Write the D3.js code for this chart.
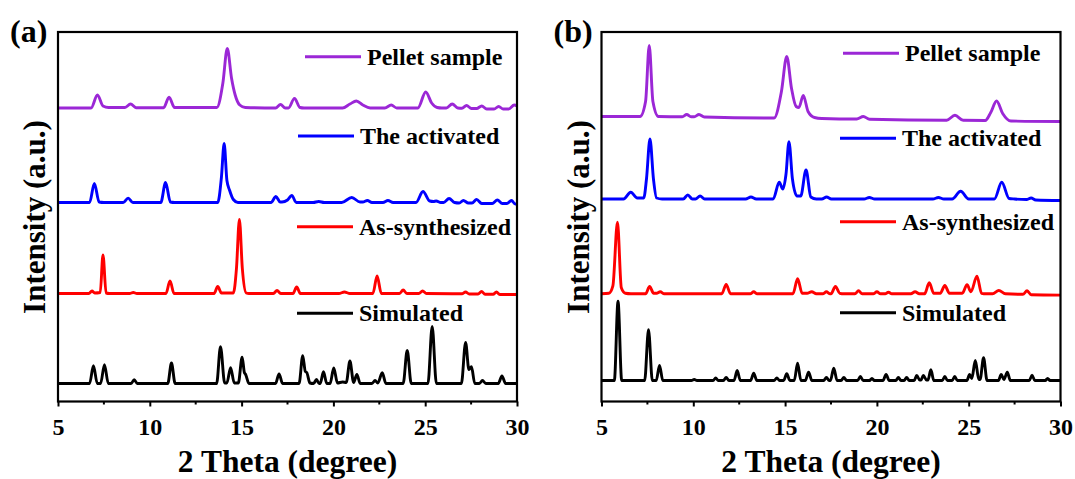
<!DOCTYPE html>
<html>
<head>
<meta charset="utf-8">
<script src="https://cdn.jsdelivr.net/npm/d3@7"></script>
<style>
  html, body { margin: 0; padding: 0; background: #fff; }
  svg { display: block; }
  text { font-family: "Liberation Serif", "Times New Roman", serif; font-weight: bold; fill: #000; }
</style>
</head>
<body>
<svg id="chart" width="1075" height="479"></svg>
<script>
// ---- Data: XRD patterns, [2θ (degree), intensity (a.u.) above each trace's baseline] ----
const seriesNames  = ["Simulated", "As-synthesized", "The activated", "Pellet sample"];
const seriesColors = ["#000000", "#ff0000", "#0000ff", "#9b27d6"];
const thetaTicks   = [5, 10, 15, 20, 25, 30];
const thetaMinor   = [7.5, 12.5, 17.5, 22.5, 27.5];

// vertical offsets (stacking) of the four traces, same order as seriesNames
const offsetsA = [18, 108, 199, 293.5];
const offsetsB = [21, 107.7, 202.5, 285];

// ---- Panel (a) ----
const simulatedA = [
  [5,0],[6.72,0],[6.93,17.7],[7.14,0],[7.32,0],[7.53,18.7],[7.74,0],
  [8.98,0],[9.15,3.7],[9.32,0],
  [10.98,0],[11.18,20.5],[11.38,0],
  [13.64,0],[13.85,36.8],[14.08,0.5],[14.2,0.5],[14.4,15.8],[14.6,0.5],[14.82,0.5],[15.03,26.3],[15.15,11],[15.22,9],[15.4,0],
  [16.85,0],[17.04,9.6],[17.23,0],
  [18.13,0],[18.33,27.8],[18.47,12],[18.55,11],[18.72,0.5],[18.92,0],[19.08,4],[19.22,0],[19.28,0],[19.46,11.7],[19.64,0],
  [19.82,0],[20.02,15.5],[20.22,0.5],[20.5,1.5],[20.7,1],[20.9,22.5],[21.1,1],[21.28,9],[21.46,0],
  [22.1,0],[22.27,3],[22.42,0.5],[22.66,10.7],[22.86,0],
  [23.8,0],[24.02,33],[24.24,0],
  [25.15,0],[25.38,57],[25.61,0],
  [26.97,0],[27.2,41],[27.38,14],[27.52,16.7],[27.7,0],
  [27.95,0],[28.12,3],[28.3,0],
  [28.98,0],[29.18,7.5],[29.38,0],[30,0]
];
const asSynthesizedA = [
  [5,0],[6.68,0],[6.85,2.5],[7.0,0.5],[7.3,1],[7.45,38.5],[7.62,0.5],[7.8,0],
  [8.9,0],[9.1,1],[9.3,0],
  [10.88,0],[11.1,12.5],[11.32,0],
  [13.5,0],[13.7,7],[13.9,0.5],[14.55,0.5],[14.72,25],[14.88,74],[15.04,25],[15.25,0.5],[15.4,0],
  [16.73,0],[16.93,3],[17.13,0],
  [17.8,0],[18.0,6.5],[18.2,0],
  [20.3,0],[20.6,1.5],[20.9,0],
  [22.15,0],[22.38,17.5],[22.61,0],
  [23.6,0],[23.8,3.5],[24.0,0],
  [24.65,0],[24.86,2.5],[25.07,0],
  [27.0,-0.3],[27.2,1.5],[27.4,-0.5],
  [27.88,-0.5],[28.07,2],[28.26,-0.7],
  [28.7,-0.7],[28.88,1.5],[29.06,-1],[30,-1]
];
const activatedA = [
  [5,0],[6.72,0],[6.98,19],[7.24,0.5],[7.5,0],
  [8.55,0],[8.82,4.4],[9.08,0],
  [10.6,0],[10.86,20],[11.12,0.5],[11.35,0],
  [13.7,0],[13.9,25],[14.05,59],[14.2,22],[14.35,12],[14.55,3],[14.8,0],
  [16.6,0],[16.87,6],[17.1,0.5],[17.2,0.5],[17.5,2.5],[17.73,7],[17.98,0],
  [18.9,0],[19.2,1],[19.5,0],
  [20.45,0],[21.0,5],[21.45,0.5],[21.6,0.5],[21.85,2],[22.1,0],
  [22.7,0],[22.97,2],[23.25,0],
  [24.5,0],[24.88,11],[25.25,1.5],[25.45,1],[25.6,1.5],[25.85,0],
  [26.0,0],[26.3,4],[26.6,0],
  [26.85,-0.5],[27.08,2],[27.35,-0.5],
  [27.55,-0.5],[27.8,3],[28.08,-1],
  [28.65,-1],[28.93,2.5],[29.2,-1],[29.45,-1],[29.7,2],[29.9,-1.5],[30,-1.5]
];
const pelletA = [
  [5,0],[6.8,0],[7.15,13],[7.45,2],[7.75,0.5],
  [8.65,0.5],[8.95,4],[9.25,0.3],
  [10.75,0.3],[11.05,10.7],[11.35,0.5],
  [13.65,0.5],[13.98,25],[14.22,59.6],[14.45,30],[14.65,13],[14.9,3],[15.2,0.5],
  [16.85,0],[17.12,3.5],[17.38,0],[17.55,0],[17.88,9.6],[18.18,0.5],[18.4,0],
  [20.5,0],[20.9,4],[21.25,7],[21.6,3],[22.0,0],
  [22.8,0],[23.15,3],[23.45,0],
  [24.6,0],[25.03,16],[25.35,5],[25.65,0.5],[25.9,0],
  [26.15,0],[26.47,4],[26.78,0],
  [27.0,-0.3],[27.25,2.5],[27.52,-0.5],
  [27.8,-0.5],[28.08,2],[28.35,-1],
  [28.75,-1],[29.0,1.5],[29.25,-1],[29.55,-1],[29.85,3],[30,2]
];

// ---- Panel (b) ----
const simulatedB = [
  [5,0],[5.7,0],[5.9,79.3],[6.1,0],[6.3,0],
  [7.35,0],[7.56,50.7],[7.77,0],[7.98,0],[8.16,15],[8.34,0],
  [9.9,0],[10.05,1],[10.2,0],
  [11.08,0],[11.22,2.5],[11.36,0],[11.64,0],[11.79,3],[11.94,0],
  [12.22,0],[12.39,10],[12.56,0],
  [13.12,0],[13.29,7.3],[13.46,0],
  [14.4,0],[14.55,2.5],[14.7,0],[14.92,0],[15.09,6.7],[15.26,0],
  [15.5,0],[15.68,17.3],[15.86,0],[16.1,0],[16.28,8.3],[16.46,0],
  [17.1,0],[17.25,3],[17.4,0],
  [17.47,0],[17.65,12.3],[17.83,0],[18.05,0],[18.2,3],[18.35,0],
  [18.95,0],[19.1,4],[19.25,0],[19.6,0],[19.73,2],[19.86,0],
  [20.33,0],[20.5,6],[20.67,0],[21.03,0],[21.17,3],[21.31,0],[21.48,0],[21.62,3],[21.76,0],
  [22.03,0],[22.17,5],[22.33,0.5],[22.4,0.5],[22.53,5],[22.7,0.5],[22.78,0.5],[22.94,10.7],[23.1,0],
  [23.56,0],[23.7,4],[23.84,0],[24.1,0],[24.24,4],[24.38,0],
  [24.9,0],[25.05,6],[25.17,2],[25.36,20],[25.55,1],[25.62,1],[25.81,22.7],[26.0,0],
  [26.62,0],[26.77,6],[26.92,1],[27.1,8.3],[27.27,0],
  [28.3,0],[28.45,5.3],[28.6,0],
  [29.17,0],[29.3,2],[29.43,0],[30,0]
];
const asSynthesizedB = [
  [5,0],[5.4,0.5],[5.62,8],[5.87,71.6],[6.08,6],[6.3,0.5],[6.6,0],
  [7.4,0],[7.62,7.3],[7.84,0.5],[8.0,0.5],[8.2,2],[8.42,0],
  [11.55,0],[11.79,9.3],[12.03,0],
  [13.1,0],[13.29,2],[13.48,0],
  [15.43,0],[15.68,15],[15.93,0.5],[16.2,0.5],[16.45,2],[16.7,0],
  [17.05,0],[17.25,2],[17.45,0],[17.5,0],[17.74,7.3],[17.98,0.5],[18.2,0],
  [18.8,0],[19.0,3],[19.2,0],[19.8,0],[20.0,2],[20.2,0],[20.45,0],[20.63,1.5],[20.81,0],
  [21.85,0],[22.08,2],[22.31,0],
  [22.6,0],[22.85,11],[23.1,0.5],[23.45,0.5],[23.7,8.3],[23.95,0.5],
  [24.65,0.5],[24.91,9],[25.12,2],[25.45,17.6],[25.7,0.5],[25.95,0],
  [26.3,0],[26.64,3.3],[27.0,0],
  [27.95,-0.5],[28.18,3],[28.4,-1],[30,-1.3]
];
const activatedB = [
  [5,0],[6.2,0],[6.59,6.7],[6.95,1],[7.3,1],[7.45,20],[7.64,60],[7.83,20],[8.0,1],[8.3,0],
  [9.45,0],[9.7,4],[9.95,0],[10.12,0],[10.37,3],[10.62,0],
  [12.85,0],[13.14,2],[13.43,0],
  [14.35,0],[14.68,16.7],[14.88,10],[15.05,25],[15.21,57.3],[15.4,20],[15.65,3],[15.85,3],[16.14,29],[16.4,2],[16.7,0],
  [17.0,0],[17.26,2],[17.52,0],
  [19.3,0],[19.59,1.5],[19.88,0],
  [23.05,0],[23.35,1.5],[23.65,0],
  [24.1,0],[24.56,7.7],[25.0,0],
  [26.4,0],[26.8,16.7],[27.2,0.5],[27.5,0],
  [28.15,-0.5],[28.4,1],[28.65,-1],[30,-1.5]
];
const pelletB = [
  [5,0],[7.1,0],[7.4,15],[7.6,71],[7.8,15],[8.1,0],
  [9.4,-0.3],[9.64,2],[9.88,-0.3],[10.05,-0.3],[10.31,2],[10.6,-0.5],
  [14.4,-1.5],[14.8,25],[15.09,60],[15.35,28],[15.6,10],[15.75,9],[15.99,21],[16.25,5],[16.6,-1],[17,-2],
  [18.9,-2.5],[19.26,0],[19.6,-2.8],
  [23.8,-3.8],[24.25,1.2],[24.7,-3.8],
  [25.9,-4],[26.2,4],[26.52,15.5],[26.85,3],[27.3,-4.5],[30,-5]
];

// ---- Layout ----
const panels = [
  { label: "(a)", left: 58,    right: 517,    series: [simulatedA, asSynthesizedA, activatedA, pelletA], offsets: offsetsA,
    legendY: [313.3, 226.7, 136, 56.7], legendX: [297, 297, 298, 305] },
  { label: "(b)", left: 601.5, right: 1060.5, series: [simulatedB, asSynthesizedB, activatedB, pelletB], offsets: offsetsB,
    legendY: [312.7, 221.7, 138.3, 53.3], legendX: [840, 840, 840, 843] }
];
const plotTop = 32, plotBottom = 401.5;
const serif = '"Liberation Serif", "Times New Roman", serif';

const svg = d3.select("#chart");

panels.forEach(p => {
  const x = d3.scaleLinear().domain([5, 30]).range([p.left, p.right]);
  const y = d3.scaleLinear().domain([0, 369.5]).range([plotBottom, plotTop]);
  const g = svg.append("g");

  // traces
  const line = d3.line().curve(d3.curveMonotoneX);
  p.series.forEach((pts, i) => {
    const off = p.offsets[i];
    g.append("path")
      .attr("d", line(pts.map(d => [x(d[0]), y(d[1] + off)])))
      .attr("fill", "none")
      .attr("stroke", seriesColors[i])
      .attr("stroke-width", 2.9)
      .attr("stroke-linejoin", "round");
  });

  // frame
  g.append("rect")
    .attr("x", p.left).attr("y", plotTop)
    .attr("width", p.right - p.left).attr("height", plotBottom - plotTop)
    .attr("fill", "none").attr("stroke", "#000").attr("stroke-width", 2.2);

  // bottom axis: major + minor ticks
  const axis = g.append("g").attr("transform", `translate(0,${plotBottom})`)
    .call(d3.axisBottom(x).tickValues(thetaTicks).tickSize(5).tickFormat(d3.format("d")))
    .attr("font-family", serif).attr("font-size", 24).attr("font-weight", "bold");
  axis.select(".domain").remove();
  axis.selectAll(".tick line").attr("stroke", "#000").attr("stroke-width", 2);
  axis.selectAll(".tick text")
    .attr("y", 33).attr("dy", 0)
    .style("font-family", serif)
    .style("font-weight", "bold").style("font-size", "24px").attr("fill", "#000");
  g.append("g").attr("transform", `translate(0,${plotBottom})`)
    .selectAll("line").data(thetaMinor).join("line")
    .attr("x1", d => x(d)).attr("x2", d => x(d)).attr("y1", 0).attr("y2", 3)
    .attr("stroke", "#000").attr("stroke-width", 2);

  // axis titles
  g.append("text")
    .attr("x", (p.left + p.right) / 2).attr("y", 472)
    .attr("text-anchor", "middle").style("font-size", "31.5px")
    .text("2 Theta (degree)");
  g.append("text")
    .attr("transform", `translate(${p.left - 13},217) rotate(-90)`)
    .attr("text-anchor", "middle").style("font-size", "31px")
    .text("Intensity (a.u.)");

  // panel label
  g.append("text")
    .attr("x", p.left - 48).attr("y", 42)
    .style("font-size", "32px")
    .text(p.label);

  // legend
  seriesNames.forEach((name, i) => {
    const lx = p.legendX[i], ly = p.legendY[i];
    g.append("line")
      .attr("x1", lx).attr("x2", lx + 56).attr("y1", ly).attr("y2", ly)
      .attr("stroke", seriesColors[i]).attr("stroke-width", 2.9);
    g.append("text")
      .attr("x", lx + 62).attr("y", ly + 8)
      .style("font-size", "24px")
      .text(name);
  });
});
</script>
</body>
</html>
